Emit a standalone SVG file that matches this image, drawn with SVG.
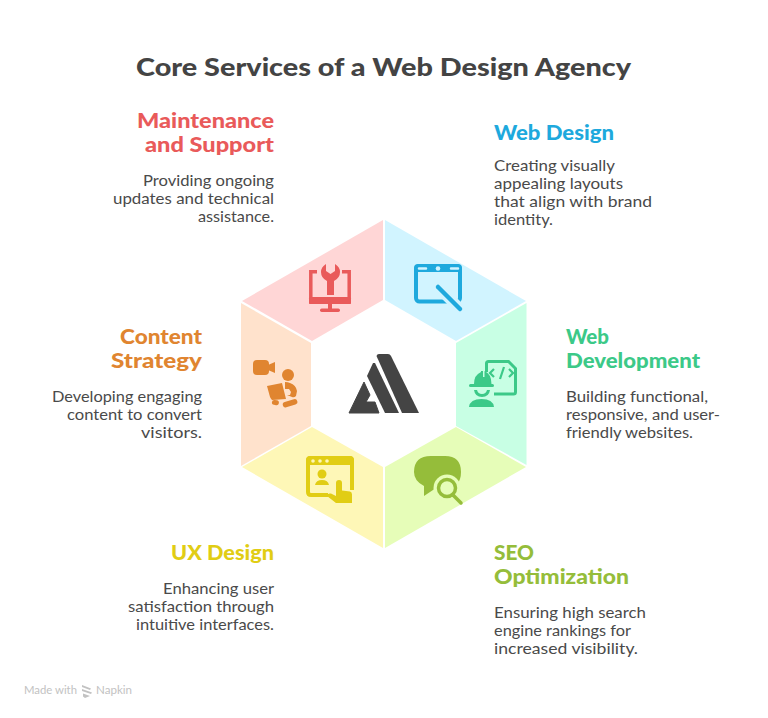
<svg xmlns="http://www.w3.org/2000/svg" width="768" height="718" viewBox="0 0 768 718">
<style>
text{font-family:"Lato","Noto Sans",sans-serif;}
.ti{font-size:25px;font-weight:900;fill:#444}
.h{font-size:20px;font-weight:900}
.b{font-size:15px;fill:#4a4a4a}
.e{text-anchor:end}
</style>
<rect width="768" height="718" fill="#fff"/>
<text class="ti" x="136" y="76" textLength="495" lengthAdjust="spacingAndGlyphs">Core Services of a Web Design Agency</text>
<g id="seg-maintenance"><path d="M383 220L242 301L312 341L383 300Z" fill="#ffd6d6"/>
<g fill="#e95a5a"><path d="M317 271.700H310.800V302H349.200V271.700H342" fill="none" stroke="#e95a5a" stroke-width="3.500"/><rect x="309" y="297" width="42" height="7" rx="1.500"/><rect x="328" y="303" width="4" height="7"/><rect x="320" y="308.500" width="20" height="3.500" rx="1.700"/><path d="M326 264q-5 3-5 8 0 6 6 9v14h7v-14q6-3 6-9 0-5-5-8v7l-4.500 3-4.500-3z"/></g></g>
<g id="seg-webdesign"><path d="M385 220L526 301L456 341L385 300Z" fill="#d1f4ff"/>
<g><rect x="416" y="266" width="44" height="35.500" rx="3.500" fill="none" stroke="#1ea9dd" stroke-width="4"/><path d="M414 268q0-4 4-4h40q4 0 4 4v4h-48z" fill="#1ea9dd"/><circle cx="438" cy="268.500" r="2.300" fill="#d1f4ff"/><path d="M419 268.500h7M451 268.500h7" stroke="#d1f4ff" stroke-width="2.500" stroke-linecap="round"/><path d="M438 287L464 313" stroke="#d1f4ff" stroke-width="11"/><path d="M438 287L460 309" stroke="#1ea9dd" stroke-width="4.500" stroke-linecap="round"/></g></g>
<g id="seg-webdev"><path d="M456 343L526.500 303V465L456 426Z" fill="#c8ffe4"/>
<g fill="#3cc988"><path d="M486.500 372V363.500q0-2 2-2H508.500L515.500 368.500V392q0 2-2 2H494" fill="none" stroke="#3cc988" stroke-width="3"/><path d="M494 369l-4 4 4 4M509 369l4 4-4 4M504 367l-4 12" fill="none" stroke="#3cc988" stroke-width="2.200"/><path d="M474 384q0-9 7-12v-1l2 0v6h1.500v-6q7 3 7 13z"/><rect x="469" y="384" width="25" height="3" rx="1.500"/><path d="M474 390h3q1 4 5 4t5-4h3q-1 7-8 7t-8-7z"/><path d="M469 407q1-8 12.500-8t12.500 8z"/></g></g>
<g id="seg-seo"><path d="M385 548V467L456 427L526 467Z" fill="#e6fdb8"/>
<g fill="#95bd3a"><path d="M431 456H445Q461 456 461 472Q461 488 445 488H436L424 496V486Q414 481 414 472Q414 456 431 456Z"/><circle cx="447" cy="488" r="13.500" fill="#e6fdb8"/><circle cx="447" cy="488" r="8.500" fill="none" stroke="#95bd3a" stroke-width="3.500"/><path d="M453 495l8 8" stroke="#95bd3a" stroke-width="3.500" stroke-linecap="round"/></g></g>
<g id="seg-ux"><path d="M383 548V467L312 427L242 467Z" fill="#fef7b7"/>
<g fill="#e1cd14"><path d="M328 495H311q-3 0-3-3V461q0-3 3-3H349q3 0 3 3V490" fill="none" stroke="#e1cd14" stroke-width="4"/><path d="M306 460q0-4 4-4h40q4 0 4 4v5h-48z"/><circle cx="313" cy="461" r="1.800" fill="#fef7b7"/><circle cx="320" cy="461" r="1.800" fill="#fef7b7"/><circle cx="327" cy="461" r="1.800" fill="#fef7b7"/><circle cx="322" cy="474" r="4.500"/><path d="M315 485q1-5 7-5t7 5z"/><path d="M336 483q0-3 3-3t3 3v7.500l8 1q2 .5 2 3v8.500h-16l-9-7q0-3 4-2.500l5 2.500z"/></g></g>
<g id="seg-content"><path d="M241 303L311 343V426L241 466Z" fill="#ffe2cc"/>
<g fill="#e08530"><rect x="253" y="360" width="16" height="15" rx="4"/><path d="M268 365l7-3v11l-7-3z"/><circle cx="288" cy="375" r="6"/><path d="M267 386l15-3 4 16-14 1q-1-1-2-3z"/><path d="M285 382q3 0 5 1 6 2 7 8l-1 5q-2 2-4 1l-5-2h3l1-3-2-3-4 0z"/><rect x="272" y="400" width="7" height="5" rx="2.500" transform="rotate(10 275 402)"/><rect x="282.500" y="400.500" width="15" height="5.500" rx="2.700" transform="rotate(-17 290 403)"/></g></g>
<g id="center" fill="#444"><path d="M364 382L349 413H379L375 402H366L370 395Z" stroke="#444" stroke-width="1" stroke-linejoin="round"/><path d="M367 376L373 363H375L399 413H385Z"/><path d="M376.500 356Q377 354 379 354H388Q390 354 391 356L419 413H402Z"/></g>
<g id="t-main"><text class="h e" x="274" y="128" fill="#e95a5a" textLength="137" lengthAdjust="spacingAndGlyphs">Maintenance</text><text class="h e" x="274" y="152" fill="#e95a5a" textLength="129" lengthAdjust="spacingAndGlyphs">and Support</text><text class="b e" x="274" y="186" textLength="131" lengthAdjust="spacingAndGlyphs">Providing ongoing</text><text class="b e" x="274" y="204" textLength="161" lengthAdjust="spacingAndGlyphs">updates and technical</text><text class="b e" x="274" y="222" textLength="76" lengthAdjust="spacingAndGlyphs">assistance.</text></g>
<g id="t-web"><text class="h" x="494" y="140" fill="#1ea9dd" textLength="120" lengthAdjust="spacingAndGlyphs">Web Design</text><text class="b" x="494" y="171" textLength="121" lengthAdjust="spacingAndGlyphs">Creating visually</text><text class="b" x="494" y="189" textLength="129" lengthAdjust="spacingAndGlyphs">appealing layouts</text><text class="b" x="494" y="207" textLength="158" lengthAdjust="spacingAndGlyphs">that align with brand</text><text class="b" x="494" y="225" textLength="59" lengthAdjust="spacingAndGlyphs">identity.</text></g>
<g id="t-dev"><text class="h" x="566" y="344" fill="#3cc988" textLength="43" lengthAdjust="spacingAndGlyphs">Web</text><text class="h" x="566" y="368" fill="#3cc988" textLength="134" lengthAdjust="spacingAndGlyphs">Development</text><text class="b" x="566" y="402" textLength="142" lengthAdjust="spacingAndGlyphs">Building functional,</text><text class="b" x="566" y="420" textLength="154" lengthAdjust="spacingAndGlyphs">responsive, and user-</text><text class="b" x="566" y="438" textLength="127" lengthAdjust="spacingAndGlyphs">friendly websites.</text></g>
<g id="t-seo"><text class="h" x="494" y="560" fill="#95bd3a" textLength="40" lengthAdjust="spacingAndGlyphs">SEO</text><text class="h" x="494" y="584" fill="#95bd3a" textLength="135" lengthAdjust="spacingAndGlyphs">Optimization</text><text class="b" x="494" y="618" textLength="152" lengthAdjust="spacingAndGlyphs">Ensuring high search</text><text class="b" x="494" y="636" textLength="137" lengthAdjust="spacingAndGlyphs">engine rankings for</text><text class="b" x="494" y="654" textLength="144" lengthAdjust="spacingAndGlyphs">increased visibility.</text></g>
<g id="t-ux"><text class="h e" x="274" y="560" fill="#e1cd14" textLength="103" lengthAdjust="spacingAndGlyphs">UX Design</text><text class="b e" x="274" y="594" textLength="111" lengthAdjust="spacingAndGlyphs">Enhancing user</text><text class="b e" x="274" y="612" textLength="146" lengthAdjust="spacingAndGlyphs">satisfaction through</text><text class="b e" x="274" y="630" textLength="138" lengthAdjust="spacingAndGlyphs">intuitive interfaces.</text></g>
<g id="t-content"><text class="h e" x="202" y="344" fill="#e08530" textLength="82" lengthAdjust="spacingAndGlyphs">Content</text><text class="h e" x="202" y="368" fill="#e08530" textLength="91" lengthAdjust="spacingAndGlyphs">Strategy</text><text class="b e" x="202" y="402" textLength="150" lengthAdjust="spacingAndGlyphs">Developing engaging</text><text class="b e" x="202" y="420" textLength="135" lengthAdjust="spacingAndGlyphs">content to convert</text><text class="b e" x="202" y="438" textLength="61" lengthAdjust="spacingAndGlyphs">visitors.</text></g>
<g id="footer" fill="#c2c2c2"><text x="24" y="694" font-size="11.500" textLength="53" lengthAdjust="spacingAndGlyphs">Made with</text><path d="M82 685l9 3.500-1 1.500-8-3zM82 689l10 3.500-1 1.500-9-3zM83 693.500l7 2.500-5 2-2-1.500z"/><text x="96" y="694" font-size="11.500" textLength="36" lengthAdjust="spacingAndGlyphs">Napkin</text></g>
</svg>
